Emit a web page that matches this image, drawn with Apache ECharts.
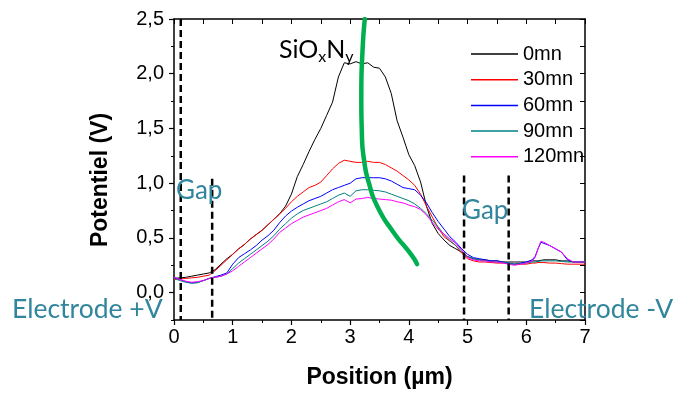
<!DOCTYPE html>
<html><head><meta charset="utf-8">
<script src="https://cdn.jsdelivr.net/npm/echarts@6/dist/echarts.min.js"></script>
<style>html,body{margin:0;padding:0;background:#fff}#c{width:675px;height:394px}</style>
</head><body><div id="c"></div>
<script>
// ---- data ----
const positions = [0,0.1,0.2,0.3,0.4,0.5,0.6,0.7,0.8,0.9,
  1.0,1.1,1.2,1.3,1.4,1.5,1.6,1.7,1.8,1.9,
  2.0,2.1,2.2,2.3,2.4,2.5,2.6,2.7,2.8,2.9,
  3.0,3.1,3.2,3.3,3.4,3.5,3.6,3.7,3.8,3.9,
  4.0,4.1,4.2,4.3,4.4,4.5,4.6,4.7,4.8,4.9,
  5.0,5.1,5.2,5.3,5.4,5.5,5.6,5.7,5.8,5.9,
  6.0,6.1,6.15,6.2,6.25,6.3,6.4,6.5,6.6,6.7,6.8,6.9,7.0];
const seriesNames = ['0mn','30mn','60mn','90mn','120mn'];
const v0mn = [0.13,0.135,0.14,0.15,0.16,0.17,0.18,0.21,0.26,0.31,
  0.35,0.40,0.44,0.49,0.53,0.57,0.62,0.67,0.72,0.79,
  0.90,1.06,1.17,1.29,1.40,1.50,1.62,1.74,1.97,2.10,
  2.09,2.11,2.09,2.10,2.06,2.05,1.97,1.82,1.57,1.42,
  1.26,1.16,1.01,0.79,0.63,0.54,0.48,0.43,0.40,0.37,
  0.33,0.31,0.30,0.30,0.29,0.29,0.28,0.28,0.28,0.28,
  0.28,0.29,0.29,0.29,0.295,0.30,0.30,0.30,0.29,0.29,0.28,0.28,0.28];
const v30mn = [0.12,0.125,0.13,0.135,0.14,0.15,0.16,0.20,0.25,0.30,
  0.35,0.40,0.44,0.49,0.53,0.57,0.62,0.67,0.72,0.77,
  0.83,0.88,0.92,0.96,0.98,1.01,1.07,1.13,1.18,1.21,
  1.20,1.19,1.19,1.20,1.19,1.19,1.17,1.14,1.11,1.07,
  1.03,0.98,0.90,0.79,0.69,0.59,0.51,0.47,0.43,0.36,
  0.31,0.29,0.28,0.28,0.275,0.27,0.27,0.265,0.26,0.26,
  0.26,0.27,0.27,0.275,0.275,0.275,0.27,0.27,0.265,0.26,0.26,0.26,0.26];
const v60mn = [0.14,0.12,0.10,0.09,0.095,0.11,0.13,0.145,0.16,0.18,
  0.26,0.32,0.355,0.39,0.43,0.48,0.52,0.57,0.64,0.70,
  0.745,0.78,0.81,0.84,0.86,0.88,0.91,0.94,0.96,0.98,
  1.00,1.04,1.05,1.05,1.05,1.05,1.04,1.02,0.99,0.96,
  0.95,0.94,0.89,0.82,0.73,0.65,0.58,0.51,0.46,0.40,
  0.35,0.32,0.31,0.30,0.29,0.29,0.28,0.27,0.26,0.27,
  0.28,0.30,0.33,0.40,0.46,0.45,0.43,0.40,0.37,0.30,0.28,0.28,0.28];
const v90mn = [0.13,0.11,0.095,0.085,0.09,0.11,0.13,0.14,0.15,0.17,
  0.22,0.27,0.31,0.35,0.39,0.43,0.47,0.52,0.58,0.63,
  0.68,0.72,0.75,0.77,0.79,0.81,0.83,0.86,0.89,0.91,
  0.88,0.93,0.94,0.94,0.935,0.93,0.92,0.90,0.88,0.86,
  0.84,0.81,0.77,0.72,0.66,0.60,0.53,0.475,0.43,0.38,
  0.33,0.31,0.30,0.29,0.285,0.28,0.275,0.27,0.26,0.265,
  0.27,0.28,0.28,0.285,0.29,0.29,0.29,0.29,0.285,0.28,0.28,0.28,0.28];
const v120mn = [0.14,0.12,0.105,0.095,0.10,0.11,0.13,0.14,0.15,0.17,
  0.20,0.24,0.28,0.32,0.36,0.40,0.44,0.49,0.55,0.59,
  0.63,0.66,0.69,0.71,0.73,0.75,0.77,0.80,0.83,0.85,
  0.82,0.855,0.86,0.87,0.86,0.855,0.85,0.845,0.83,0.82,
  0.80,0.785,0.76,0.71,0.64,0.58,0.535,0.49,0.45,0.39,
  0.32,0.30,0.29,0.29,0.28,0.28,0.27,0.26,0.25,0.26,
  0.27,0.29,0.32,0.40,0.47,0.46,0.43,0.40,0.37,0.31,0.28,0.28,0.28];
const seriesColors = ['#000000','#ff0000','#0000ff','#008080','#ff00ff'];
// green guide curve
const greenX = [3.25,3.21,3.19,3.20,3.24,3.32,3.47,3.74,4.05,4.14];
const greenY = [2.5,2.2,1.8,1.45,1.2,1.0,0.78,0.55,0.34,0.26];
// gap dashed lines
const gapX = [0.115,0.65,4.94,5.70];
const gapTop = [2.5,1.04,1.07,1.07];
const gapBottom = -0.25;
// ticks
const xTicks = [0,1,2,3,4,5,6,7];
const yTicks = [0,0.5,1.0,1.5,2.0,2.5];
const yTickLabels = ['0,0','0,5','1,0','1,5','2,0','2,5'];
const yMinorTicks = [-0.25,0.25,0.75,1.25,1.75,2.25];
const yAllTicks = [-0.25,0,0.25,0.5,0.75,1.0,1.25,1.5,1.75,2.0,2.25,2.5];

// ---- chart ----
const allValues = [v0mn,v30mn,v60mn,v90mn,v120mn];
const chart = echarts.init(document.getElementById('c'));
const tickFont = {fontFamily:'"Liberation Sans", Arial, sans-serif', fontSize:20, color:'#000'};
const lineBlack = {lineStyle:{color:'#000', width:1.5}};
const series = [];
seriesNames.forEach((n,i)=>{
  series.push({name:n, type:'line', showSymbol:false, symbol:'none', clip:true,
    data: positions.map((x,j)=>[x, allValues[i][j]]),
    lineStyle:{color:seriesColors[i], width:1}, itemStyle:{color:seriesColors[i]}, z:3});
});
series.push({name:'green', type:'line', symbol:'none', smooth:0.6,
  data: greenX.map((x,j)=>[x, greenY[j]]),
  lineStyle:{color:'#00B050', width:4.5, cap:'round'}, z:5});
gapX.forEach((x,i)=>{
  series.push({name:'gap'+i, type:'line', symbol:'none',
    data:[[x,gapTop[i]],[x,gapBottom]],
    lineStyle:{color:'#000', width:2.5, type:[7,4]}, z:4});
});

const option = {
  animation:false,
  backgroundColor:'#fff',
  grid:{left:174, right:90, top:19, bottom:72},
  legend:{data:seriesNames, orient:'vertical', left:466, top:39, icon:'rect',
    itemWidth:47, itemHeight:1.5, itemGap:5.7,
    textStyle:{fontFamily:'"Liberation Sans", Arial, sans-serif', fontSize:20, color:'#000', lineHeight:20}},
  xAxis:[
    {type:'value', position:'bottom', min:0, max:7, interval:1,
     axisLine:{show:true, onZero:false, ...lineBlack},
     axisTick:{show:true, inside:false, length:5, lineStyle:{color:'#000', width:1.2}},
     minorTick:{show:true, splitNumber:2, length:3, lineStyle:{color:'#000', width:1}},
     axisLabel:{...tickFont, margin:7, customValues:xTicks},
     splitLine:{show:false},
     name:'Position (µm)', nameLocation:'middle', nameGap:46,
     nameTextStyle:{fontFamily:'"Liberation Sans", Arial, sans-serif', fontSize:23, fontWeight:'bold', color:'#000'}},
    {type:'value', position:'top', min:0, max:7, interval:0.5,
     axisLine:{show:true, onZero:false, ...lineBlack},
     axisTick:{show:true, inside:true, length:5, lineStyle:{color:'#000', width:1}},
     axisLabel:{show:false}, splitLine:{show:false}}
  ],
  yAxis:[
    {type:'value', position:'left', min:-0.25, max:2.5,
     axisLine:{show:true, onZero:false, ...lineBlack},
     axisTick:{show:true, inside:false, length:5, customValues:yTicks, lineStyle:{color:'#000', width:1.2}},
     axisLabel:{...tickFont, margin:10, customValues:yTicks,
       formatter:(v)=>{const k=yTicks.findIndex(t=>Math.abs(t-v)<1e-6); return k>=0?yTickLabels[k]:'';}},
     splitLine:{show:false}},
    {type:'value', position:'left', min:-0.25, max:2.5,
     axisLine:{show:false, onZero:false},
     axisTick:{show:true, inside:false, length:3, customValues:yMinorTicks, lineStyle:{color:'#000', width:1}},
     axisLabel:{show:false}, splitLine:{show:false}},
    {type:'value', position:'right', min:-0.25, max:2.5,
     axisLine:{show:true, onZero:false, ...lineBlack},
     axisTick:{show:true, inside:true, length:5, customValues:yAllTicks, lineStyle:{color:'#000', width:1}},
     axisLabel:{show:false}, splitLine:{show:false}}
  ],
  graphic:[
    {type:'text', x:101, y:180, rotation:Math.PI/2, z:10,
     style:{text:'Potentiel (V)', font:'bold 23px "Liberation Sans", Arial, sans-serif', fill:'#000', align:'center', verticalAlign:'middle'}},
    {type:'text', x:176, y:191, z:10,
     style:{text:'Gap', font:'26px Lato, sans-serif', fill:'#31859C', align:'left', verticalAlign:'middle'}},
    {type:'text', x:462, y:211, z:10,
     style:{text:'Gap', font:'26px Lato, sans-serif', fill:'#31859C', align:'left', verticalAlign:'middle'}},
    {type:'text', x:12, y:309, z:10,
     style:{text:'Electrode +V', font:'26.5px Lato, sans-serif', fill:'#31859C', align:'left', verticalAlign:'middle'}},
    {type:'text', x:529, y:309, z:10,
     style:{text:'Electrode -V', font:'26.5px Lato, sans-serif', fill:'#31859C', align:'left', verticalAlign:'middle'}},
    {type:'text', x:279, y:50, z:10,
     style:{text:'{a|SiO}{b|x}{a|N}{b|y}', fill:'#000', verticalAlign:'middle',
       rich:{a:{font:'25px Lato, sans-serif', fill:'#000'}, b:{font:'16px Lato, sans-serif', fill:'#000', padding:[14,0,0,0]}}}}
  ],
  series: series
};
chart.setOption(option);
</script></body></html>
